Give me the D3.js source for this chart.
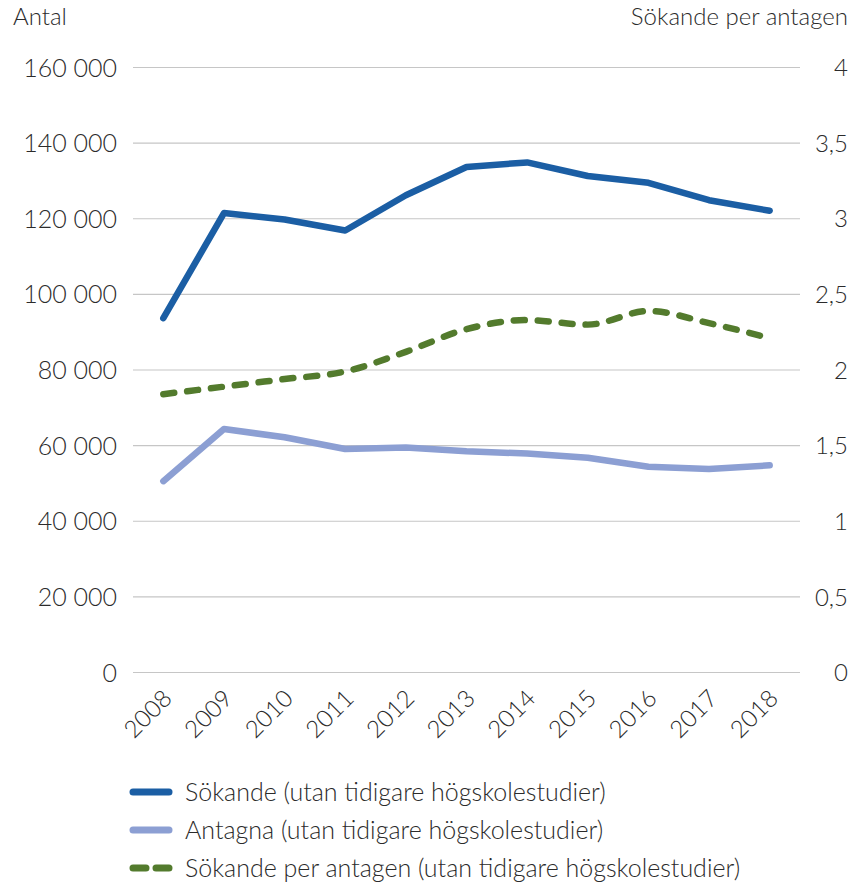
<!DOCTYPE html>
<html>
<meta charset="utf-8">
<style>
  body { margin: 0; background: #fff; }
  text { font-family: Lato, "Open Sans", sans-serif; font-weight: 300; fill: #2b2b2b; }
</style>
<body>
<div id="chart"></div>
<script src="https://d3js.org/d3.v7.min.js"></script>
<script>
// data
var years = ["2008","2009","2010","2011","2012","2013","2014","2015","2016","2017","2018"];
var sokande = [93700, 121500, 119800, 116900, 126200, 133700, 134900, 131300, 129500, 124900, 122100];
var antagna = [50600, 64400, 62200, 59100, 59500, 58500, 57900, 56800, 54400, 53800, 54800];
var perAntagen = [1.84, 1.89, 1.94, 1.99, 2.12, 2.27, 2.33, 2.30, 2.39, 2.31, 2.21];
var leftTicks = [0, 20000, 40000, 60000, 80000, 100000, 120000, 140000, 160000];
var rightTicks = [0, 0.5, 1, 1.5, 2, 2.5, 3, 3.5, 4];
var legendLabels = [
  "Sökande (utan tidigare högskolestudier)",
  "Antagna (utan tidigare högskolestudier)",
  "Sökande per antagen (utan tidigare högskolestudier)"
];

var width = 856, height = 883;
var plot = {left: 133, right: 800, top: 67.5, bottom: 672.5};

var svg = d3.select("#chart").append("svg")
    .attr("width", width)
    .attr("height", height);

var x = d3.scalePoint()
    .domain(years)
    .range([plot.left, plot.right])
    .padding(0.5);

var yLeft = d3.scaleLinear()
    .domain([0, 160000])
    .range([plot.bottom, plot.top]);

var yRight = d3.scaleLinear()
    .domain([0, 4])
    .range([plot.bottom, plot.top]);

// grid
svg.append("g")
  .selectAll("line")
  .data(leftTicks)
  .enter().append("line")
    .attr("x1", plot.left)
    .attr("x2", plot.right)
    .attr("y1", function(d) { return yLeft(d); })
    .attr("y2", function(d) { return yLeft(d); })
    .attr("stroke", "#c6c6c6")
    .attr("stroke-width", 1.2);

var fmt = function(d) { return d3.format(",")(d).replace(/,/g, " "); };

// left axis labels
svg.append("g")
  .selectAll("text")
  .data(leftTicks)
  .enter().append("text")
    .attr("x", 117)
    .attr("y", function(d) { return yLeft(d); })
    .attr("dy", "0.36em")
    .attr("text-anchor", "end")
    .style("font-size", "25px")
    .text(fmt);

// right axis labels
svg.append("g")
  .selectAll("text")
  .data(rightTicks)
  .enter().append("text")
    .attr("x", 848)
    .attr("y", function(d) { return yRight(d); })
    .attr("dy", "0.36em")
    .attr("text-anchor", "end")
    .style("font-size", "24px")
    .text(function(d) { return String(d).replace(".", ","); });

// axis titles
svg.append("text")
    .attr("x", 13).attr("y", 25)
    .style("font-size", "24px")
    .text("Antal");
svg.append("text")
    .attr("x", 848).attr("y", 25)
    .attr("text-anchor", "end")
    .style("font-size", "24px")
    .text("Sökande per antagen");

// x labels
svg.append("g")
  .selectAll("text")
  .data(years)
  .enter().append("text")
    .attr("transform", function(d) { return "translate(" + (x(d) + 10) + ",700) rotate(-45)"; })
    .attr("text-anchor", "end")
    .style("font-size", "24px")
    .text(function(d) { return d; });

var colors = ["#1b5ea4", "#8c9fd3", "#537b2d"];

// lines
var lineLeft = d3.line()
    .x(function(d, i) { return x(years[i]); })
    .y(function(d) { return yLeft(d); });

var lineRight = d3.line()
    .x(function(d, i) { return x(years[i]); })
    .y(function(d) { return yRight(d); })
    .curve(d3.curveMonotoneX);

svg.append("path")
    .datum(antagna)
    .attr("d", lineLeft)
    .attr("fill", "none")
    .attr("stroke", colors[1])
    .attr("stroke-width", 6.5)
    .attr("stroke-linejoin", "round")
    .attr("stroke-linecap", "round");

svg.append("path")
    .datum(perAntagen)
    .attr("d", lineRight)
    .attr("fill", "none")
    .attr("stroke", colors[2])
    .attr("stroke-width", 6.5)
    .attr("stroke-dasharray", "11,13")
    .attr("stroke-linecap", "round");

svg.append("path")
    .datum(sokande)
    .attr("d", lineLeft)
    .attr("fill", "none")
    .attr("stroke", colors[0])
    .attr("stroke-width", 6.5)
    .attr("stroke-linejoin", "round")
    .attr("stroke-linecap", "round");

// legend
var legendY = [792, 830, 868];
var legend = svg.append("g");
legendLabels.forEach(function(label, i) {
  legend.append("line")
      .attr("x1", 133).attr("x2", 169)
      .attr("y1", legendY[i]).attr("y2", legendY[i])
      .attr("stroke", colors[i])
      .attr("stroke-width", 7)
      .attr("stroke-linecap", "round")
      .attr("stroke-dasharray", i == 2 ? "13,10" : null);
  legend.append("text")
      .attr("x", 185)
      .attr("y", legendY[i])
      .attr("dy", "0.36em")
      .style("font-size", "25px")
      .text(label);
});
</script>
</body>
</html>
